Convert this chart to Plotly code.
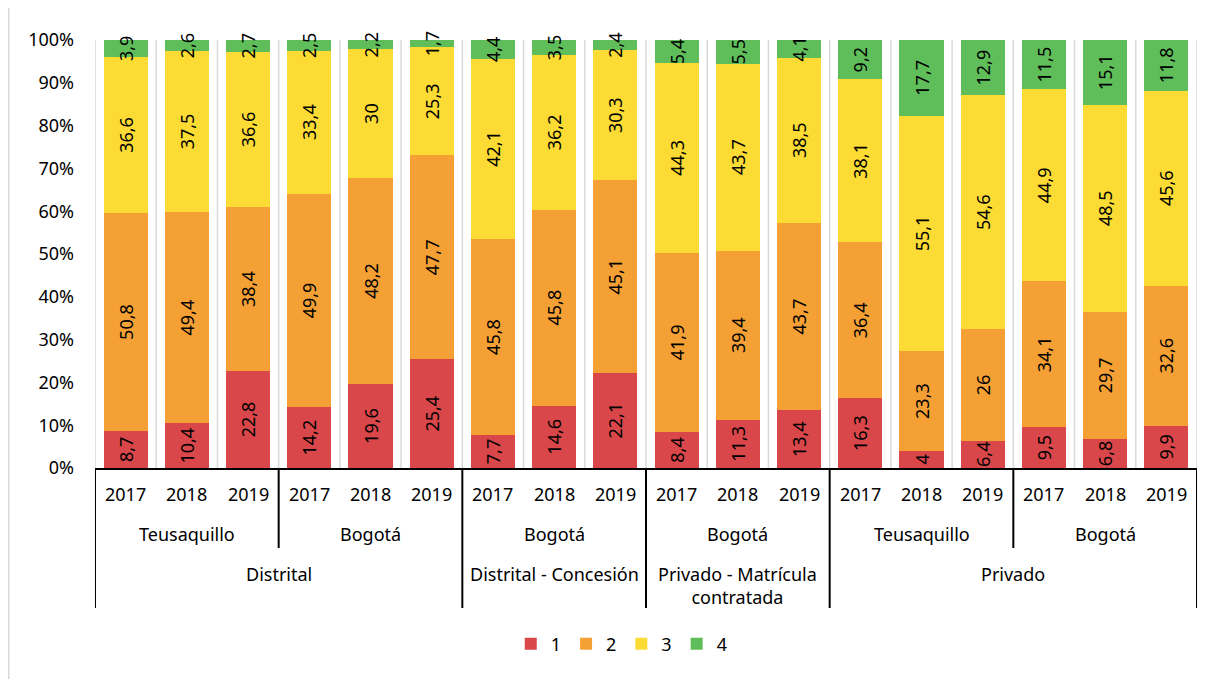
import plotly.graph_objects as go

years = ["2017", "2018", "2019"] * 6
locations = ["Teusaquillo", "Bogotá", "Bogotá", "Bogotá", "Teusaquillo", "Bogotá"]
sectors = ["Distrital", "Distrital - Concesión", "Privado - Matrícula<br>contratada", "Privado"]
sector_spans = [6, 3, 3, 6]

nivel_1 = [8.7, 10.4, 22.8, 14.2, 19.6, 25.4, 7.7, 14.6, 22.1, 8.4, 11.3, 13.4, 16.3, 4, 6.4, 9.5, 6.8, 9.9]
nivel_2 = [50.8, 49.4, 38.4, 49.9, 48.2, 47.7, 45.8, 45.8, 45.1, 41.9, 39.4, 43.7, 36.4, 23.3, 26, 34.1, 29.7, 32.6]
nivel_3 = [36.6, 37.5, 36.6, 33.4, 30, 25.3, 42.1, 36.2, 30.3, 44.3, 43.7, 38.5, 38.1, 55.1, 54.6, 44.9, 48.5, 45.6]
nivel_4 = [3.9, 2.6, 2.7, 2.5, 2.2, 1.7, 4.4, 3.5, 2.4, 5.4, 5.5, 4.1, 9.2, 17.7, 12.9, 11.5, 15.1, 11.8]

series = [("1", nivel_1, "#D9474A"), ("2", nivel_2, "#F5A035"),
          ("3", nivel_3, "#FCDC34"), ("4", nivel_4, "#5FBE5A")]

y_ticks = list(range(0, 101, 10))

FONT = "Noto Sans"
FS = 18
x = list(range(len(years)))

# plot area: bottom at 468px, 100% at 40px; extra headroom above so that
# labels of the thin top segments can spill over like in Excel
PLOT_H = 449
Y_TOP = 100 + 21 / 4.28


def py(px):
    # page pixel -> paper y
    return (468 - px) / PLOT_H


fig = go.Figure()
for name, vals, color in series:
    fig.add_trace(go.Bar(
        x=x, y=vals, name=name,
        marker=dict(color=color, line=dict(width=0)),
        text=[f"{v:g}".replace(".", ",") for v in vals],
        textposition="inside",
        insidetextanchor="middle",
        textangle=-90,
        textfont=dict(family=FONT, size=FS, color="black"),
        width=0.72,
        hoverinfo="skip",
    ))

annotations = []
shapes = []

# vertical gridlines between categories
for i in range(len(years) + 1):
    shapes.append(dict(type="line", xref="x", yref="y", x0=i - 0.5, x1=i - 0.5,
                       y0=0, y1=100, layer="below",
                       line=dict(color="#D9D9D9", width=1.5)))

# year labels
for i, yr in enumerate(years):
    annotations.append(dict(x=i, y=py(494), xref="x", yref="paper", text=yr,
                            showarrow=False, yanchor="middle",
                            font=dict(family=FONT, size=FS, color="black")))

# location labels and separators
for k, loc in enumerate(locations):
    annotations.append(dict(x=3 * k + 1, y=py(534), xref="x", yref="paper", text=loc,
                            showarrow=False, yanchor="middle",
                            font=dict(family=FONT, size=FS, color="black")))
for xs in [2.5, 14.5]:
    shapes.append(dict(type="line", xref="x", yref="paper", x0=xs, x1=xs,
                       y0=0, y1=py(548), line=dict(color="black", width=2)))

# sector labels and separators
start = 0
bounds = [-0.5]
for sec, span in zip(sectors, sector_spans):
    annotations.append(dict(x=start + (span - 1) / 2, y=py(560), xref="x", yref="paper",
                            text=sec, showarrow=False, yanchor="top",
                            font=dict(family=FONT, size=FS, color="black")))
    start += span
    bounds.append(start - 0.5)
for xs in bounds:
    shapes.append(dict(type="line", xref="x", yref="paper", x0=xs, x1=xs,
                       y0=0, y1=py(608), line=dict(color="black", width=2)))

# chart border
shapes.append(dict(type="line", xref="paper", yref="paper", x0=-0.0785, x1=-0.0785,
                   y0=py(-10), y1=py(690), line=dict(color="#D9D9D9", width=2)))

fig.update_layout(
    width=1212, height=679,
    barmode="stack", barnorm="percent",
    separators=",.",
    plot_bgcolor="white", paper_bgcolor="white",
    margin=dict(l=87, r=23, t=11, b=219),
    font=dict(family=FONT, size=FS, color="black"),
    uniformtext=dict(minsize=FS, mode="show"),
    xaxis=dict(
        range=[-0.5, 17.5],
        tickvals=x, showticklabels=False,
        showgrid=False, zeroline=False,
        showline=True, linecolor="black", linewidth=2,
    ),
    yaxis=dict(
        range=[0, Y_TOP], tickvals=y_ticks,
        ticktext=[f"{v}%" for v in y_ticks],
        showgrid=False, zeroline=False,
        ticklabelstandoff=20, automargin=False,
        tickfont=dict(family=FONT, size=FS, color="black"),
    ),
    legend=dict(orientation="h", x=0.478, xanchor="center", y=py(644), yanchor="middle",
                font=dict(family=FONT, size=FS, color="black"), traceorder="normal"),
    annotations=annotations,
    shapes=shapes,
)

fig.write_html("out.html")
